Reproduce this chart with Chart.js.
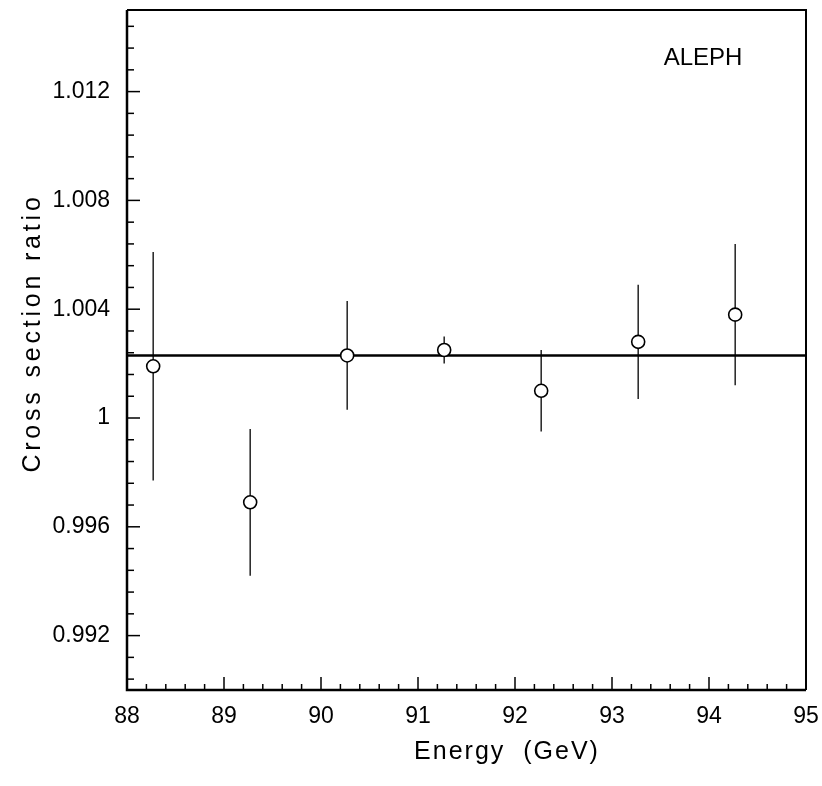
<!DOCTYPE html>
<html>
<head>
<meta charset="utf-8">
<script src="https://cdn.jsdelivr.net/npm/chart.js@4.4.1/dist/chart.umd.min.js"></script>
<style>
  html, body { margin: 0; padding: 0; background: #fff; }
  #wrap { width: 822px; height: 786px; }
</style>
</head>
<body>
<div id="wrap"><canvas id="chart" width="822" height="786"></canvas></div>
<script>
'use strict';

const energy = [88.27, 89.27, 90.27, 91.27, 92.27, 93.27, 94.27];
const ratio = [1.0019, 0.9969, 1.0023, 1.0025, 1.0010, 1.0028, 1.0038];
const ratioError = [0.0042, 0.0027, 0.0020, 0.0005, 0.0015, 0.0021, 0.0026];

// fitted constant
const fitValue = 1.0023;
const fitRange = [88, 95];

// tick labels
const xTickValues = [88, 89, 90, 91, 92, 93, 94, 95];
const xTickLabels = ['88', '89', '90', '91', '92', '93', '94', '95'];
const yTickValues = [0.992, 0.996, 1, 1.004, 1.008, 1.012];
const yTickLabels = ['0.992', '0.996', '1', '1.004', '1.008', '1.012'];

const FONT = '"Liberation Sans", Arial, sans-serif';

const framePlugin = {
  id: 'frame',
  beforeDatasetsDraw(chart) {
    const ctx = chart.ctx;
    const x = chart.scales.x;
    const y = chart.scales.y;
    ctx.save();
    ctx.strokeStyle = '#222';
    ctx.lineWidth = 1.5;
    for (let i = 0; i < energy.length; i++) {
      const px = x.getPixelForValue(energy[i]);
      ctx.beginPath();
      ctx.moveTo(px, y.getPixelForValue(ratio[i] + ratioError[i]));
      ctx.lineTo(px, y.getPixelForValue(ratio[i] - ratioError[i]));
      ctx.stroke();
    }
    ctx.restore();
  },
  afterDraw(chart) {
    const ctx = chart.ctx;
    const area = chart.chartArea;
    const x = chart.scales.x;
    const y = chart.scales.y;
    ctx.save();
    ctx.strokeStyle = '#000';
    ctx.lineWidth = 2;
    ctx.beginPath();
    ctx.moveTo(area.left, area.top);
    ctx.lineTo(area.right, area.top);
    ctx.lineTo(area.right, area.bottom);
    ctx.stroke();
    ctx.lineWidth = 2.5;
    ctx.beginPath();
    ctx.moveTo(area.left, area.top);
    ctx.lineTo(area.left, area.bottom);
    ctx.lineTo(area.right, area.bottom);
    ctx.stroke();

    // inward ticks on the bottom axis
    ctx.lineWidth = 1.5;
    for (let v = 880; v <= 950; v += 2) {
      const px = x.getPixelForValue(v / 10);
      const len = v % 10 === 0 ? 13 : 6;
      ctx.beginPath();
      ctx.moveTo(px, area.bottom);
      ctx.lineTo(px, area.bottom - len);
      ctx.stroke();
    }
    // inward ticks on the left axis
    for (let k = 0; k <= 31; k++) {
      const v = 0.9904 + k * 0.0008;
      if (v > y.max) break;
      const py = y.getPixelForValue(v);
      const len = k % 5 === 2 ? 13 : 7;
      ctx.beginPath();
      ctx.moveTo(area.left, py);
      ctx.lineTo(area.left + len, py);
      ctx.stroke();
    }

    // texts
    ctx.fillStyle = '#000';
    ctx.font = '24px ' + FONT;
    ctx.textAlign = 'center';
    ctx.textBaseline = 'middle';
    ctx.fillText('ALEPH', 703, 58);

    ctx.font = '25px ' + FONT;
    ctx.letterSpacing = '2px';
    ctx.fillText('Energy  (GeV)', 507, 752);

    ctx.translate(33, 333);
    ctx.rotate(-Math.PI / 2);
    ctx.letterSpacing = '3.8px';
    ctx.fillText('Cross section ratio', 0, 0);
    ctx.restore();
  }
};

const points = energy.map((e, i) => ({ x: e, y: ratio[i] }));

new Chart(document.getElementById('chart'), {
  type: 'scatter',
  data: {
    datasets: [
      {
        label: 'data',
        data: points,
        pointRadius: 6.5,
        pointHoverRadius: 6.5,
        pointBackgroundColor: '#fff',
        pointBorderColor: '#000',
        pointBorderWidth: 1.6
      },
      {
        type: 'line',
        label: 'fit',
        data: fitRange.map(e => ({ x: e, y: fitValue })),
        borderColor: '#000',
        borderWidth: 2.5,
        pointRadius: 0,
        fill: false
      }
    ]
  },
  options: {
    responsive: false,
    animation: false,
    events: [],
    layout: { padding: { top: 10, right: 16, left: 0, bottom: 0 } },
    plugins: {
      legend: { display: false },
      tooltip: { enabled: false }
    },
    scales: {
      x: {
        type: 'linear',
        min: 88,
        max: 95,
        grid: { display: false, drawTicks: false },
        border: { display: false },
        afterBuildTicks: s => { s.ticks = xTickValues.map(v => ({ value: v })); },
        afterFit: s => { s.height = 96; s.paddingLeft = 0; s.paddingRight = 0; },
        ticks: {
          color: '#000',
          font: { family: FONT, size: 23 },
          padding: 13,
          callback: (v, i) => xTickLabels[i]
        }
      },
      y: {
        type: 'linear',
        min: 0.99,
        max: 1.015,
        grid: { display: false, drawTicks: false },
        border: { display: false },
        afterBuildTicks: s => { s.ticks = yTickValues.map(v => ({ value: v })); },
        afterFit: s => { s.width = 127; s.paddingTop = 0; s.paddingBottom = 0; },
        ticks: {
          color: '#000',
          font: { family: FONT, size: 23 },
          padding: 17,
          callback: (v, i) => yTickLabels[i]
        }
      }
    }
  },
  plugins: [framePlugin]
});
</script>
</body>
</html>
